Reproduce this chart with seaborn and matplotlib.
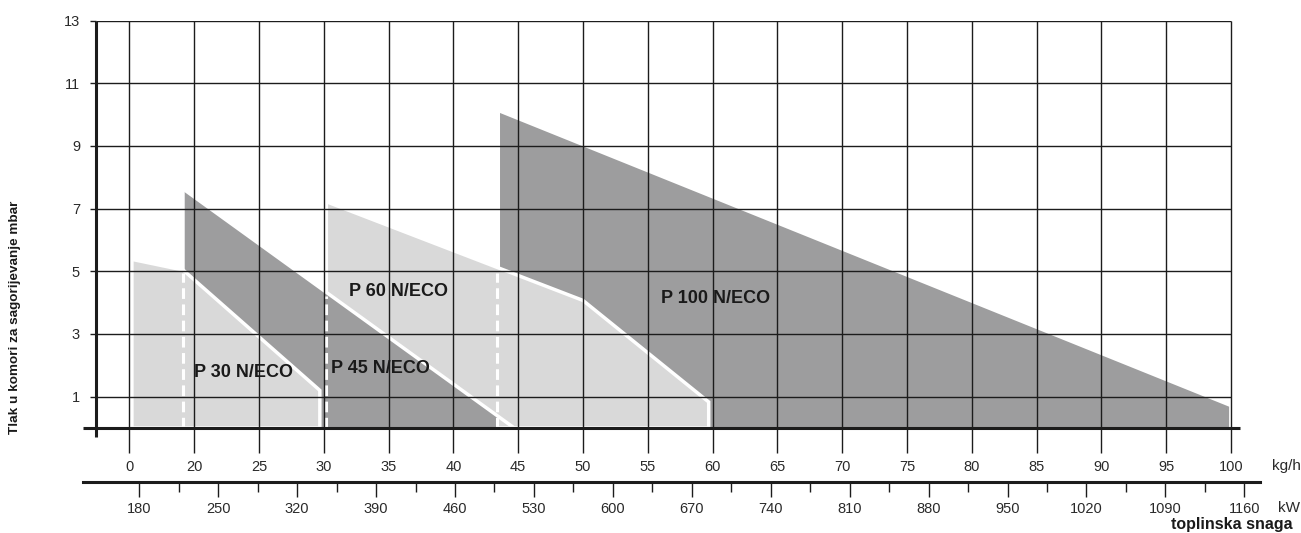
import numpy as np
import matplotlib
matplotlib.use('Agg')
import matplotlib.pyplot as plt
import seaborn as sns
from matplotlib.ticker import NullLocator

# axis ticks
kgh_ticks = [0, 20, 25, 30, 35, 40, 45, 50, 55, 60, 65, 70, 75, 80, 85, 90, 95, 100]
kw_ticks = list(range(180, 1161, 70))
kw_minor = list(range(215, 1126, 70))
mbar_ticks = [1, 3, 5, 7, 9, 11, 13]

# working fields, x in kg/h, y in mbar
p30_x = [0.8, 0.8, 16.6, 29.7, 29.7]
p30_y = [0, 5.38, 5.04, 1.2, 0]
p45_x = [17.1, 17.1, 43.4, 43.4]
p45_y = [0, 7.59, 0.37, 0]
p45_edge_x = [17.1, 44.7]
p45_edge_y = [7.59, 0]
p60_x = [30.2, 30.2, 50, 59.7, 59.7]
p60_y = [0, 7.22, 4.07, 0.83, 0]
p100_x = [43.6, 43.6, 99.85, 99.85]
p100_y = [0, 10.05, 0.68, 0]

# dashed markers where the next burner starts
start_x = [16.5, 30.15, 43.4]
start_top = [4.96, 4.2, 4.95]

names = ['P 30 N/ECO', 'P 45 N/ECO', 'P 60 N/ECO', 'P 100 N/ECO']

light = '#d9d9d9'
dark = '#9d9d9e'
ink = '#1c1c1c'

sns.set_theme(style='white')
plt.rcParams['font.family'] = ['Liberation Sans', 'DejaVu Sans']


# kg/h axis: 0 -> 20 takes one step, then 5 kg/h per step
def fwd(v):
    v = np.asarray(v, dtype=float)
    return np.where(v < 20, v / 20, 1 + (v - 20) / 5)


def inv(p):
    p = np.asarray(p, dtype=float)
    return np.where(p < 1, p * 20, 20 + (p - 1) * 5)


W, H = 1301, 533
fig = plt.figure(figsize=(W / 100, H / 100), dpi=100)
ax = fig.add_axes([96 / W, 105 / H, 1144 / W, 407.5 / H])
ax.set_xscale('function', functions=(fwd, inv))
x_left = -10.28
ax.set_xlim(x_left, 100.69)
ax.set_ylim(0, 13)
for s in ax.spines.values():
    s.set_visible(False)

ax.fill(p100_x, p100_y, color=dark, lw=0, zorder=1)
ax.fill(p60_x, p60_y, facecolor=light, edgecolor='white', lw=2.5, zorder=2)
ax.fill(p45_x, p45_y, color=dark, lw=0, zorder=3)
sns.lineplot(x=p45_edge_x, y=p45_edge_y, ax=ax, color='white', lw=2.5,
             sort=False, estimator=None, zorder=3.1)
ax.fill(p30_x, p30_y, facecolor=light, edgecolor='white', lw=2.5, zorder=4)

for xs, top in zip(start_x, start_top):
    ax.plot([xs, xs], [0, top], color='white', lw=2.2, dashes=(3.5, 1.8), zorder=5)

# grid
ax.hlines(mbar_ticks, x_left, 100, color=ink, lw=1, zorder=6)
ax.vlines(kgh_ticks, 0, 13, color=ink, lw=1, zorder=6)

# axis lines
ax.plot([0, 0], [-0.022, 1], transform=ax.transAxes, color=ink, lw=2.2,
        clip_on=False, zorder=8, solid_capstyle='butt')
ax.plot([-13 / 1144, 1], [0, 0], transform=ax.transAxes, color=ink, lw=2.2,
        clip_on=False, zorder=8, solid_capstyle='butt')

ax.set_xticks(kgh_ticks)
ax.set_xticklabels([str(t) for t in kgh_ticks])
ax.xaxis.set_minor_locator(NullLocator())
ax.set_yticks(mbar_ticks)
ax.set_yticklabels([str(t) for t in mbar_ticks])
ax.tick_params(axis='x', bottom=True, length=18, width=1, pad=5, labelsize=10.5,
               color=ink, labelcolor='#2a2a2a')
ax.tick_params(axis='y', left=True, length=4, width=1, pad=7.5, labelsize=10.5,
               color=ink, labelcolor='#2a2a2a')
ax.grid(False)

label_pos = [(23.8, 1.77), (34.4, 1.91), (35.8, 4.36), (60.25, 4.12)]
for name, (lx, ly) in zip(names, label_pos):
    ax.text(lx, ly, name, ha='center', va='center', fontsize=13,
            fontweight='bold', color='#1a1a1a', zorder=9)

# kW axis
ax2 = fig.add_axes([83 / W, 51 / H, 1177 / W, 0.001])
ax2.set_xlim(130.07, 1173.9)
ax2.set_ylim(0, 1)
ax2.patch.set_visible(False)
for k in ['top', 'left', 'right']:
    ax2.spines[k].set_visible(False)
ax2.spines['bottom'].set_color(ink)
ax2.spines['bottom'].set_linewidth(2.2)
ax2.set_yticks([])
ax2.set_xticks(kw_ticks)
ax2.set_xticklabels([str(t) for t in kw_ticks])
ax2.set_xticks(kw_minor, minor=True)
ax2.tick_params(axis='x', which='major', bottom=True, length=10.5, width=1,
                pad=4, labelsize=10.5, color=ink, labelcolor='#2a2a2a')
ax2.tick_params(axis='x', which='minor', bottom=True, length=7.5, width=1, color=ink)
ax2.grid(False)

fig.text(1271.7 / W, 1 - 466 / H, 'kg/h', ha='left', va='center', fontsize=11, color='#2a2a2a')
fig.text(1278 / W, 1 - 508 / H, 'kW', ha='left', va='center', fontsize=11, color='#2a2a2a')
fig.text(1293 / W, 1 - 525 / H, 'toplinska snaga', ha='right', va='center',
         fontsize=11.5, fontweight='bold', color='#1a1a1a')
fig.text(15 / W, 1 - 317 / H, 'Tlak u komori za sagorijevanje mbar', rotation=90,
         ha='center', va='center', fontsize=9.7, fontweight='bold', color='#1a1a1a')

fig.savefig('out.png', dpi=100)
